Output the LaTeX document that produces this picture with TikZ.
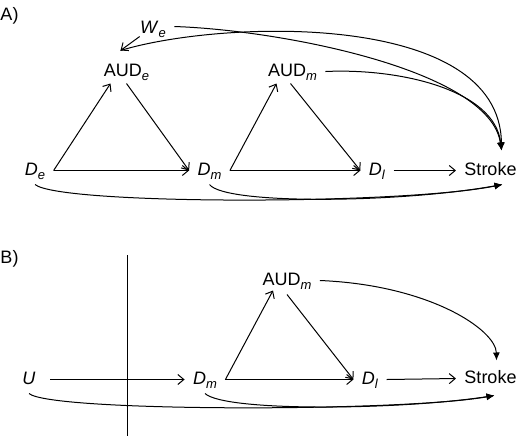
\documentclass[tikz,border=0pt]{standalone}
\usepackage{fontspec}
\setmainfont{Liberation Sans}
\usepackage{tikz}
\usetikzlibrary{arrows.meta}
\tikzstyle{var} = [inner xsep=4pt, inner ysep=2pt, text height=7pt, text depth=2.5pt, anchor=base]
\tikzstyle{panel} = [inner sep=0pt, anchor=base west]
\tikzstyle{arrow} = [-{Straight Barb[length=3pt,width=5pt]}]
\tikzstyle{curve} = [-{Latex[length=4pt,width=3.5pt]}]
\newcommand{\dsub}[1]{\raisebox{-0.5ex}{\fontsize{6.5}{7}\selectfont\textit{#1}}}

\begin{document}
\begin{tikzpicture}[x=0.5pt, y=-0.5pt, line width=0.5pt, font=\fontsize{9}{11}\selectfont]
\useasboundingbox (0,0) rectangle (520,436);

% panel A
\node(pa) [panel] at (0,20) {A)};
\node(We) [var] at (153,33) {\textit{W}\dsub{e}};
\node(AUDe) [var] at (126.5,76) {AUD\dsub{e}};
\node(AUDm) [var] at (292.5,76) {AUD\dsub{m}};
\node(De) [var] at (35,175) {\textit{D}\dsub{e}};
\node(Dm) [var] at (209.5,175) {\textit{D}\dsub{m}};
\node(Dl) [var] at (377,175) {\textit{D}\dsub{l}};
\node(Stroke) [var] at (490.5,175) {Stroke};

\coordinate (AUDeTop) at ([xshift=-3pt,yshift=3.5pt]AUDe.north);
\coordinate (StrokeTop) at ([xshift=5.5pt,yshift=3pt]Stroke.north);
\coordinate (StrokeBot) at ([xshift=6pt]Stroke.south);

\draw [arrow] (De.east) -- ([xshift=-8pt,yshift=1pt]AUDe.south);
\draw [arrow] ([yshift=1pt]AUDe.south) -- (Dm.west);
\draw [arrow] (De.east) -- (Dm.west);
\draw [arrow] (Dm.east) -- ([xshift=-8pt,yshift=1pt]AUDm.south);
\draw [arrow] ([xshift=-1pt,yshift=1pt]AUDm.south) -- (Dl.west);
\draw [arrow] (Dm.east) -- (Dl.west);
\draw [arrow] (Dl.east) -- (Stroke.west);
\draw [arrow] ([xshift=4pt,yshift=3pt]We.south west) -- (AUDeTop);

\draw [curve] (AUDeTop) .. controls (220,20) and (500,10) .. (StrokeTop);
\draw [curve] ([yshift=1pt]We.east) .. controls (280,30) and (490,70) .. (StrokeTop);
\draw [curve] (AUDm.east) .. controls (400,68) and (495,90) .. (StrokeTop);
\draw [curve] (De.south) .. controls (60,205) and (400,205) .. (StrokeBot);
\draw [curve] (Dm.south) .. controls (225,205) and (400,203) .. (StrokeBot);

% panel B
\node(pb) [panel] at (0,263) {B)};
\node(AUDm2) [var] at (287,285) {AUD\dsub{m}};
\node(U) [var] at (29,384) {\textit{U}};
\node(Dm2) [var] at (205,384) {\textit{D}\dsub{m}};
\node(Dl2) [var] at (370,384) {\textit{D}\dsub{l}};
\node(Stroke2) [var] at (490.5,383) {Stroke};

\coordinate (cutTop) at (127,255);
\coordinate (cutBot) at (127,436);
\coordinate (Stroke2Top) at ([xshift=3pt,yshift=2pt]Stroke2.north);
\coordinate (Stroke2Bot) at ([xshift=2pt,yshift=-1.5pt]Stroke2.south);

\draw (cutTop) -- (cutBot);
\draw [arrow] ([xshift=3pt]U.east) -- (Dm2.west);
\draw [arrow] (Dm2.east) -- ([xshift=-7pt,yshift=2pt]AUDm2.south);
\draw [arrow] (AUDm2.south) -- (Dl2.west);
\draw [arrow] (Dm2.east) -- (Dl2.west);
\draw [arrow] (Dl2.east) -- (Stroke2.west);

\draw [curve] (AUDm2.east) .. controls (430,285) and (496,330) .. (Stroke2Top);
\draw [curve] (U.south) .. controls (50,412) and (400,412) .. (Stroke2Bot);
\draw [curve] (Dm2.south) .. controls (225,412) and (400,410) .. (Stroke2Bot);
\end{tikzpicture}
\end{document}
